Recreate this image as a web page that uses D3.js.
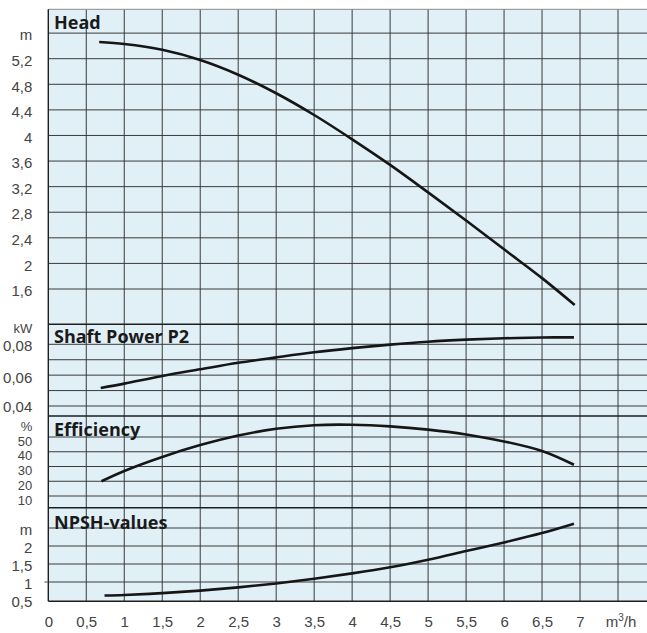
<!DOCTYPE html>
<html>
<head>
<meta charset="utf-8">
<script src="https://cdn.jsdelivr.net/npm/d3@7"></script>
<style>
  html, body { margin: 0; padding: 0; background: #fff; }
  svg { display: block; }
  .tick text { font-family: "Liberation Sans", Arial, sans-serif; font-size: 15px; fill: #444; }
  .title { font-family: "Open Sans", sans-serif; font-weight: 700; font-size: 18px; fill: #1a1a1a; }
</style>
</head>
<body>
<svg id="chart" width="647" height="633"></svg>
<script>
// ---------- DATA ----------
const flowTicks = [0, 0.5, 1, 1.5, 2, 2.5, 3, 3.5, 4, 4.5, 5, 5.5, 6, 6.5, 7];
const flowTickLabels = ["0", "0,5", "1", "1,5", "2", "2,5", "3", "3,5", "4", "4,5", "5", "5,5", "6", "6,5", "7"];
const flowGrid = [0.5, 1, 1.5, 2, 2.5, 3, 3.5, 4, 4.5, 5, 5.5, 6, 6.5, 7, 7.5, 8];

const headTicks = [5.6, 5.2, 4.8, 4.4, 4.0, 3.6, 3.2, 2.8, 2.4, 2.0, 1.6];
const headTickLabels = ["m", "5,2", "4,8", "4,4", "4", "3,6", "3,2", "2,8", "2,4", "2", "1,6"];
const powerGrid = [0.08, 0.07, 0.06, 0.05, 0.04];
const powerTicks = [0.09, 0.08, 0.06, 0.04];
const powerTickLabels = ["kW", "0,08", "0,06", "0,04"];
const effGrid = [50, 40, 30, 20, 10];
const effTicks = [60, 50, 40, 30, 20, 10];
const effTickLabels = ["%", "50", "40", "30", "20", "10"];
const npshGrid = [2.5, 2, 1.5, 1];
const npshTicks = [2.5, 2, 1.5, 1, 0.5];
const npshTickLabels = ["m", "2", "1,5", "1", "0,5"];

const headFlow  = [0.67, 1.0, 1.5, 2.0, 2.5, 3.0, 3.5, 4.0, 4.5, 5.0, 5.5, 6.0, 6.5, 6.93];
const headValue = [5.46, 5.43, 5.34, 5.18, 4.95, 4.66, 4.32, 3.94, 3.54, 3.11, 2.67, 2.22, 1.77, 1.35];

const powerFlow  = [0.69, 1.0, 1.5, 2.0, 2.5, 3.0, 3.5, 4.0, 4.5, 5.0, 5.5, 6.0, 6.5, 6.92];
const powerValue = [0.0517, 0.0545, 0.0595, 0.0638, 0.0680, 0.0715, 0.0748, 0.0775, 0.0798, 0.0817, 0.0830, 0.0839, 0.0844, 0.0845];

const effFlow  = [0.70, 1.0, 1.5, 2.0, 2.5, 3.0, 3.5, 4.0, 4.5, 5.0, 5.5, 6.0, 6.5, 6.92];
const effValue = [20.0, 27.0, 36.5, 44.5, 51.0, 55.6, 58.0, 58.3, 57.2, 55.0, 51.7, 47.0, 40.5, 31.2];

const npshFlow  = [0.74, 1.0, 1.5, 2.0, 2.5, 3.0, 3.5, 4.0, 4.5, 5.0, 5.5, 6.0, 6.5, 6.92];
const npshValue = [0.625, 0.64, 0.69, 0.76, 0.85, 0.96, 1.09, 1.24, 1.41, 1.62, 1.86, 2.10, 2.36, 2.62];

const panelTitles = ["Head", "Shaft Power P2", "Efficiency", "NPSH-values"];

// ---------- LAYOUT ----------
const svg = d3.select("#chart");
const plotL = 48.3, plotR = 660, plotT = 9.3, plotB = 601.3;
const bounds = [plotT, 324.3, 416, 507.7, plotB];

const x = d3.scaleLinear().domain([0, 7.5]).range([plotL, 618]);
const yHead = d3.scaleLinear().domain([1.6, 5.2]).range([289, 58.7]);
const yPower = d3.scaleLinear().domain([0.04, 0.08]).range([406, 344.3]);
const yEff = d3.scaleLinear().domain([10, 50]).range([496, 437]);
const yNpsh = d3.scaleLinear().domain([1, 2]).range([582, 546]);

svg.append("rect").attr("x", plotL).attr("y", plotT).attr("width", plotR - plotL).attr("height", plotB - plotT)
  .attr("fill", "#e1f0f7");

const grid = svg.append("g").attr("stroke", "#3a3a3a").attr("stroke-width", 1).attr("fill", "none");

function hgrid(scale, vals) {
  vals.forEach(v => {
    grid.append("line").attr("x1", plotL).attr("x2", plotR).attr("y1", scale(v)).attr("y2", scale(v));
  });
}
hgrid(yHead, headTicks);
hgrid(yPower, powerGrid);
hgrid(yEff, effGrid);
hgrid(yNpsh, npshGrid);

flowGrid.forEach(v => {
  grid.append("line").attr("x1", x(v)).attr("x2", x(v)).attr("y1", plotT).attr("y2", plotB);
});

bounds.slice(1, 4).forEach(b => {
  grid.append("line").attr("x1", plotL).attr("x2", plotR).attr("y1", b).attr("y2", b)
    .attr("stroke", "#1e1e1e").attr("stroke-width", 1.4);
});
grid.append("line").attr("x1", plotL).attr("x2", plotR).attr("y1", plotT).attr("y2", plotT).attr("stroke", "#8a8a8a");
grid.append("line").attr("x1", plotL).attr("x2", plotL).attr("y1", plotT).attr("y2", plotB).attr("stroke", "#1e1e1e").attr("stroke-width", 1.4);
grid.append("line").attr("x1", plotL).attr("x2", plotR).attr("y1", plotB).attr("y2", plotB).attr("stroke", "#1e1e1e").attr("stroke-width", 1.4);
grid.append("line").attr("x1", plotL - 4).attr("x2", plotL).attr("y1", yNpsh(1)).attr("y2", yNpsh(1)).attr("stroke", "#555");

// ---------- AXES ----------
function leftAxis(scale, ticks, labels, offset, sizes) {
  const g = svg.append("g").attr("transform", `translate(${plotL},0)`)
    .call(d3.axisLeft(scale).tickValues(ticks).tickSize(0).tickPadding(16)
      .tickFormat((d, i) => labels[i]));
  g.select(".domain").remove();
  g.selectAll("text").attr("dy", "0.35em")
    .attr("transform", (d, i) => `translate(0,${Array.isArray(offset) ? offset[i] : offset})`)
    .style("font-size", (d, i) => (sizes ? sizes[i] : 15) + "px");
  return g;
}
leftAxis(yHead, headTicks, headTickLabels, 1.5);
leftAxis(yPower, powerTicks, powerTickLabels, [-0.5, 1, 2, 0.5], [13, 15, 15, 15]);
leftAxis(yEff, effTicks, effTickLabels, 3.5, [13, 13, 13, 13, 13, 13]);
leftAxis(yNpsh, npshTicks, npshTickLabels, 1.5);

const xa = svg.append("g").attr("transform", `translate(0,${plotB})`)
  .call(d3.axisBottom(x).tickValues(flowTicks).tickSize(0).tickPadding(15)
    .tickFormat((d, i) => flowTickLabels[i]));
xa.select(".domain").remove();

const unit = svg.append("text").attr("x", x(7.5) + 3).attr("y", 627).attr("text-anchor", "middle")
  .attr("font-family", "Liberation Sans, Arial, sans-serif").attr("font-size", 15).attr("fill", "#444");
unit.append("tspan").text("m");
unit.append("tspan").attr("font-size", 10).attr("dy", -6).text("3");
unit.append("tspan").attr("dy", 6).text("/h");

// ---------- TITLES ----------
const titleY = [29.3, 342.7, 435.7, 529.3];
panelTitles.forEach((t, i) => {
  svg.append("text").attr("class", "title").attr("x", 54).attr("y", titleY[i]).text(t);
});

// ---------- CURVES ----------
function curve(xs, ys, yScale) {
  const pts = xs.map((d, i) => [d, ys[i]]);
  svg.append("path").datum(pts)
    .attr("fill", "none").attr("stroke", "#161616").attr("stroke-width", 2.6)
    .attr("d", d3.line().x(d => x(d[0])).y(d => yScale(d[1])).curve(d3.curveCatmullRom.alpha(0.5)));
}
curve(headFlow, headValue, yHead);
curve(powerFlow, powerValue, yPower);
curve(effFlow, effValue, yEff);
curve(npshFlow, npshValue, yNpsh);
</script>
</body>
</html>
